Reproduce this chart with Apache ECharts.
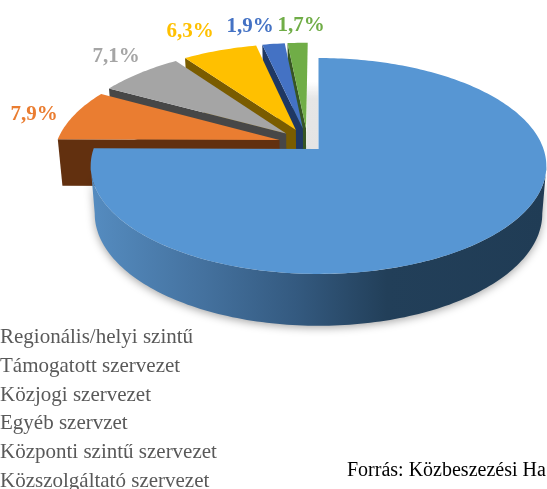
<!DOCTYPE html>
<html lang="hu">
<head>
<meta charset="utf-8">
<title>Szervezetek megoszlása</title>
<style>
html,body{margin:0;padding:0;background:#fff;}
#main{width:547px;height:489px;}
</style>
</head>
<body>
<div id="main"></div>
<script src="https://cdn.jsdelivr.net/npm/echarts@6/dist/echarts.min.js"></script>
<script>
var categories = ['Regionális/helyi szintű', 'Támogatott szervezet', 'Közjogi szervezet', 'Egyéb szervzet', 'Központi szintű szervezet', 'Közszolgáltató szervezet'];
var values = [75.1, 7.9, 7.1, 6.3, 1.9, 1.7];
var valueLabels = ['', '7,9%', '7,1%', '6,3%', '1,9%', '1,7%'];
var topColors = ['#5796d3', '#ea7d31', '#a5a5a5', '#ffc000', '#4472c4', '#70ad47'];
var wallColors = ['#2f5578', '#62300f', '#474747', '#7a5c00', '#1f3864', '#375623'];
// label centres
var labelSpots = [null, [34, 115], [116, 57], [190, 32], [250, 27], [301, 26]];

// perspective disc: u to the right, v to the back, unit radius
var cx = 318.5, k = 0.157;
var topDisc = {y0: 149, a: 225, b: 105.3};
var bottomDisc = {y0: 196, a: 221, b: 109.4};
var total = values.reduce(function (s, v) { return s + v; }, 0);

function project(disc, u, v) {
    var d = 1 + k * v;
    return [cx + disc.a * u / d, disc.y0 - disc.b * v / d];
}

function sliceAngles(i) {
    var before = 0;
    for (var j = 0; j < i; j++) before += values[j];
    return [before / total * 2 * Math.PI, (before + values[i]) / total * 2 * Math.PI];
}

// pulled out slices, not quite radial in the original
function offsetOf(i) {
    if (i === 0) return [0, 0];
    var a = sliceAngles(i), mid = (a[0] + a[1]) / 2;
    return [-0.05 + 0.13 * Math.sin(mid), 0.05 + 0.15 * Math.cos(mid)];
}

function rimPoint(disc, angle, off) {
    return project(disc, Math.sin(angle) + off[0], Math.cos(angle) + off[1]);
}

function arc(disc, from, to, off) {
    var pts = [], n = Math.max(2, Math.ceil(Math.abs(to - from) / 0.02));
    for (var i = 0; i <= n; i++) pts.push(rimPoint(disc, from + (to - from) * i / n, off));
    return pts;
}

function renderSlice(params, api) {
    var i = params.seriesIndex;
    var a = sliceAngles(i), off = offsetOf(i);
    var apex = project(topDisc, off[0], off[1]);
    var apexLow = project(bottomDisc, off[0], off[1]);
    var children = [];

    if (i === 0) {
        // the front rim, only up to where it turns away
        var turn = Math.acos(-k);
        var front = arc(topDisc, turn, 2 * Math.PI - turn, off)
            .concat(arc(bottomDisc, 2 * Math.PI - turn, turn, off));
        children.push({
            type: 'polygon',
            shape: {points: front},
            style: {
                fill: new echarts.graphic.LinearGradient(0, 0, 1, 0, [
                    {offset: 0, color: '#558cc0'},
                    {offset: 0.25, color: '#44719e'},
                    {offset: 0.45, color: '#345a80'},
                    {offset: 0.65, color: '#223f59'},
                    {offset: 1, color: '#203c55'}
                ]),
                shadowColor: 'rgba(0,0,0,0.35)',
                shadowBlur: 9,
                shadowOffsetY: 2
            }
        });
        // light shadow on the inner cut
        children.push({
            type: 'rect',
            shape: {x: 307, y: 82, width: 11, height: 67},
            style: {
                fill: new echarts.graphic.LinearGradient(0, 0, 0, 1, [
                    {offset: 0, color: 'rgba(228,228,228,0)'},
                    {offset: 0.25, color: '#e6e6e6'},
                    {offset: 1, color: '#e4e4e4'}
                ])
            }
        });
    } else {
        // cut wall on the start side of the slice
        var outer = rimPoint(topDisc, a[0], off);
        var outerLow = rimPoint(bottomDisc, a[0], off);
        children.push({
            type: 'polygon',
            shape: {points: [apex, outer, outerLow, apexLow]},
            style: {fill: wallColors[i]}
        });
    }

    children.push({
        type: 'polygon',
        shape: {points: [apex].concat(arc(topDisc, a[0], a[1], off))},
        style: {fill: topColors[i]}
    });

    if (valueLabels[i]) {
        children.push({
            type: 'text',
            z2: 10,
            style: {
                x: labelSpots[i][0],
                y: labelSpots[i][1],
                text: valueLabels[i],
                fill: topColors[i],
                font: 'bold 21px "Liberation Serif"',
                align: 'center',
                verticalAlign: 'middle'
            }
        });
    }
    return {type: 'group', children: children};
}

var chart = echarts.init(document.getElementById('main'), null, {renderer: 'canvas'});

var series = categories.map(function (name, i) {
    return {
        type: 'custom',
        name: name,
        coordinateSystem: 'none',
        // slices go back to front: big disc last, then orange, then round to green
        z: i === 0 ? 10 : 8 - i,
        silent: true,
        itemStyle: {color: topColors[i]},
        renderItem: renderSlice,
        data: [[values[i]]]
    };
});

chart.setOption({
    animation: false,
    title: {
        text: 'Forrás: Közbeszezési Ha',
        left: 347,
        top: 461,
        padding: 0,
        textStyle: {fontFamily: 'Liberation Serif', fontSize: 20, fontWeight: 'normal', color: '#000'}
    },
    legend: {
        orient: 'vertical',
        left: -5,
        top: 327,
        height: 200,
        padding: 0,
        itemWidth: 0,
        itemHeight: 14,
        itemGap: 7.8,
        icon: 'rect',
        selectedMode: false,
        data: categories,
        textStyle: {fontFamily: 'Liberation Serif', fontSize: 21, color: '#595959'}
    },
    series: series
});
</script>
</body>
</html>
